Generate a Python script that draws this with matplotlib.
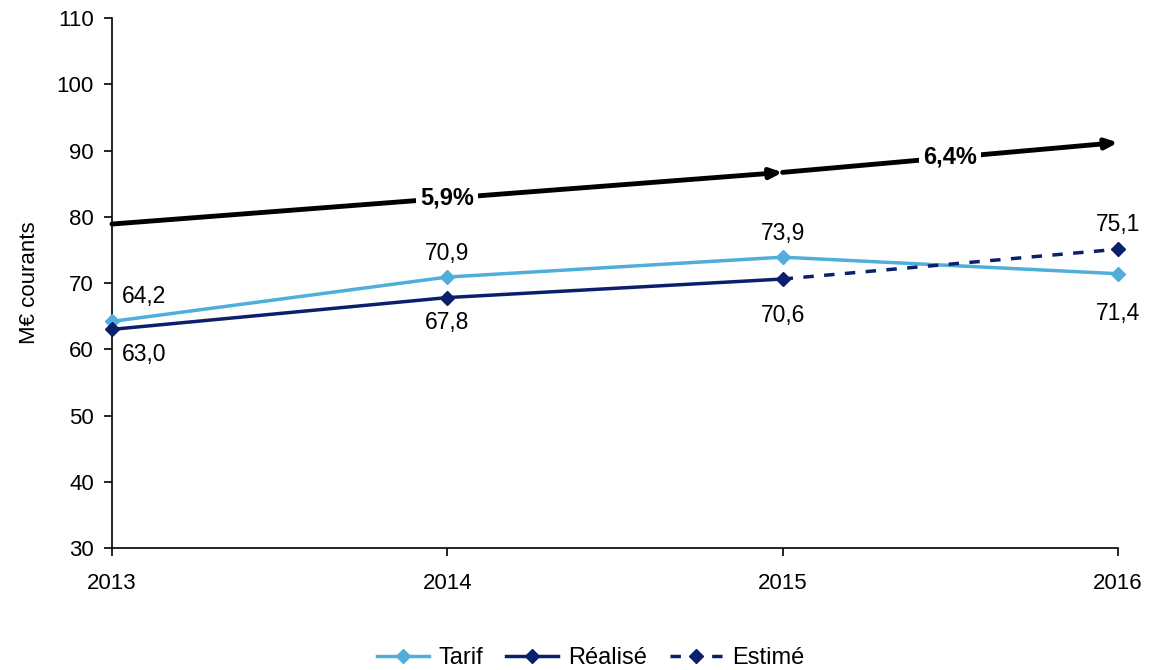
import matplotlib.pyplot as plt
from matplotlib.lines import Line2D

plt.rcParams["font.family"] = ["Liberation Sans", "DejaVu Sans"]

years = [2013, 2014, 2015, 2016]
tarif = [64.2, 70.9, 73.9, 71.4]
realise = [63.0, 67.8, 70.6]
estime_years = [2015, 2016]
estime = [70.6, 75.1]

# growth arrows: (x0, y0, x1, y1, label)
arrows = [
    (2013, 78.9, 2015, 86.7, "5,9%"),
    (2015, 86.7, 2016, 91.2, "6,4%"),
]

c_tarif = "#4FAEDA"
c_real = "#0B1F6D"


def fmt(v):
    return f"{v:.1f}".replace(".", ",")


fig = plt.figure(figsize=(11.53, 6.70), dpi=100)
ax = fig.add_axes([0.0971, 0.1821, 0.8725, 0.791])

ax.plot(years, tarif, color=c_tarif, lw=2.5, marker="D", ms=7, zorder=3, clip_on=False)
ax.plot(years[:3], realise, color=c_real, lw=2.5, marker="D", ms=7, zorder=3, clip_on=False)
ax.plot(estime_years, estime, color=c_real, lw=2.5, ls=(0, (3, 3)), zorder=3, clip_on=False)
ax.plot(estime_years[1:], estime[1:], color=c_real, ls="none", marker="D", ms=7,
        zorder=4, clip_on=False)

for x0, y0, x1, y1, lab in arrows:
    ax.annotate("", xy=(x1, y1), xytext=(x0, y0), annotation_clip=False,
                arrowprops=dict(arrowstyle="-|>,head_length=0.7,head_width=0.3",
                                color="black", lw=3.5, shrinkA=0, shrinkB=0))
    ax.text((x0 + x1) / 2, (y0 + y1) / 2, lab, ha="center", va="center",
            fontsize=17, fontweight="bold",
            bbox=dict(facecolor="white", edgecolor="none", pad=3))

fs = 16.5
# Tarif labels
ax.text(2013 + 0.03, tarif[0] + 2.0, fmt(tarif[0]), ha="left", va="bottom", fontsize=fs)
for x, v in zip(years[1:3], tarif[1:3]):
    ax.text(x, v + 1.8, fmt(v), ha="center", va="bottom", fontsize=fs)
ax.text(2016, tarif[3] - 4.2, fmt(tarif[3]), ha="center", va="top", fontsize=fs)
# Réalisé labels
ax.text(2013 + 0.03, realise[0] - 2.0, fmt(realise[0]), ha="left", va="top", fontsize=fs)
ax.text(2014, realise[1] - 2.0, fmt(realise[1]), ha="center", va="top", fontsize=fs)
ax.text(2015, realise[2] - 3.8, fmt(realise[2]), ha="center", va="top", fontsize=fs)
ax.text(2016, estime[1] + 2.0, fmt(estime[1]), ha="center", va="bottom", fontsize=fs)

ax.set_xlim(2013, 2016)
ax.set_ylim(30, 110)
ax.set_xticks(years)
ax.set_yticks(range(30, 111, 10))
ax.tick_params(axis="y", labelsize=16, length=6, width=1.2, direction="out", pad=7)
ax.tick_params(axis="x", labelsize=16, length=6, width=1.2, direction="out", pad=12)
for s in ["top", "right"]:
    ax.spines[s].set_visible(False)
for s in ["left", "bottom"]:
    ax.spines[s].set_linewidth(1.2)
ax.set_ylabel("M€ courants", fontsize=16, labelpad=12)

handles = [
    Line2D([], [], color=c_tarif, lw=2.5, marker="D", ms=7),
    Line2D([], [], color=c_real, lw=2.5, marker="D", ms=7),
    Line2D([], [], color=c_real, lw=2.5, ls=(0, (3, 3)), marker="D", ms=7),
]
fig.legend(handles, ["Tarif", "Réalisé", "Estimé"], loc="lower center",
           bbox_to_anchor=(0.512, -0.03), ncol=3, frameon=False, fontsize=17,
           handlelength=2.2, columnspacing=1.0, handletextpad=0.4)

fig.savefig("out.png", dpi=100)
